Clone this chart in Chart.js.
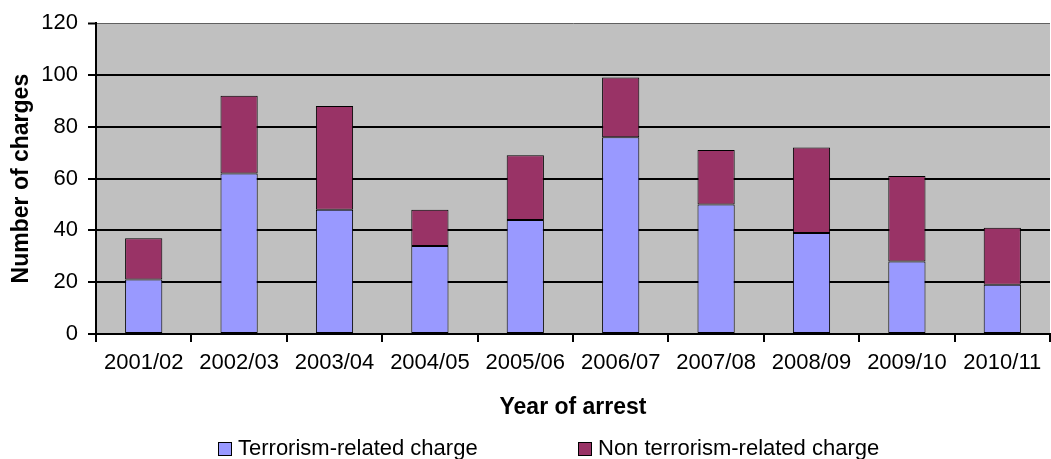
<!DOCTYPE html>
<html>
<head>
<meta charset="utf-8">
<script src="https://cdn.jsdelivr.net/npm/chart.js@4"></script>
<style>
  html, body { margin: 0; padding: 0; background: #fff; }
  #wrap { position: relative; width: 1051px; height: 459px; overflow: hidden; }
  canvas { position: absolute; left: 0; top: 0; }
  .leg { position: absolute; top: 435px; height: 26px; line-height: 26px; font-family: "Liberation Sans", Arial, sans-serif; font-size: 22px; color: #000; white-space: nowrap; }
  .box { position: absolute; top: 7px; width: 12px; height: 12px; border: 1px solid #000; }
</style>
</head>
<body>
<div id="wrap">
  <canvas id="c" width="1051" height="459"></canvas>
  <div class="leg" style="left:218px;"><span class="box" style="left:0;background:#9999ff;"></span><span style="position:absolute;left:20px;">Terrorism-related charge</span></div>
  <div class="leg" style="left:578px;"><span class="box" style="left:0;background:#993366;"></span><span style="position:absolute;left:20px;">Non terrorism-related charge</span></div>
</div>
<script>
const categories = ["2001/02","2002/03","2003/04","2004/05","2005/06","2006/07","2007/08","2008/09","2009/10","2010/11"];
const terrorismRelated = [21, 62, 48, 34, 44, 76, 50, 39, 28, 19];
const nonTerrorismRelated = [16, 30, 40, 14, 25, 23, 21, 33, 33, 22];
const yTicks = [0, 20, 40, 60, 80, 100, 120];

const bgPlugin = {
  id: 'plotBg',
  beforeDraw(chart) {
    const {ctx, chartArea: a} = chart;
    ctx.save();
    ctx.fillStyle = '#c0c0c0';
    ctx.fillRect(a.left, a.top, a.right - a.left, a.bottom - a.top);
    ctx.restore();
  }
};

new Chart(document.getElementById('c'), {
  type: 'bar',
  data: {
    labels: categories,
    datasets: [
      { label: 'Terrorism-related charge', data: terrorismRelated, backgroundColor: '#9999ff', borderColor: '#000', borderWidth: 1, borderSkipped: false },
      { label: 'Non terrorism-related charge', data: nonTerrorismRelated, backgroundColor: '#993366', borderColor: '#000', borderWidth: 1, borderSkipped: false }
    ]
  },
  options: {
    responsive: false,
    animation: false,
    devicePixelRatio: 1,
    layout: { padding: { top: 22, right: 1, bottom: 35, left: 0 } },
    datasets: { bar: { barPercentage: 0.39, categoryPercentage: 1 } },
    plugins: { legend: { display: false }, tooltip: { enabled: false } },
    scales: {
      x: {
        stacked: true,
        afterFit(s) { s.height = 90; },
        grid: { offset: true, drawOnChartArea: false, drawTicks: true, tickLength: 8, tickColor: '#000', tickWidth: 2, color: '#000', lineWidth: 2 },
        border: { color: '#000', width: 2 },
        ticks: { color: '#000', padding: 8, maxRotation: 0, autoSkip: false, font: { family: '"Liberation Sans", Arial, sans-serif', size: 22 } },
        title: { display: true, text: 'Year of arrest', color: '#000', padding: { top: 0, bottom: 3 }, font: { family: '"Liberation Sans", Arial, sans-serif', size: 23, weight: 'bold' } }
      },
      y: {
        stacked: true,
        min: 0, max: 120,
        afterFit(s) { s.width = 96; },
        afterBuildTicks(s) { s.ticks = yTicks.map(v => ({ value: v })); },
        grid: {
          color: (c) => c.tick && c.tick.value === 120 ? '#606060' : '#000',
          lineWidth: (c) => c.tick && c.tick.value === 120 ? 1 : 2,
          tickColor: '#000', tickWidth: 2, tickLength: 8, drawTicks: true
        },
        border: { color: '#000', width: 2 },
        ticks: { color: '#000', padding: 10, font: { family: '"Liberation Sans", Arial, sans-serif', size: 22 } },
        title: { display: true, text: 'Number of charges', color: '#000', padding: { top: 8, bottom: 0 }, font: { family: '"Liberation Sans", Arial, sans-serif', size: 23, weight: 'bold' } }
      }
    }
  },
  plugins: [bgPlugin]
});
</script>
</body>
</html>
